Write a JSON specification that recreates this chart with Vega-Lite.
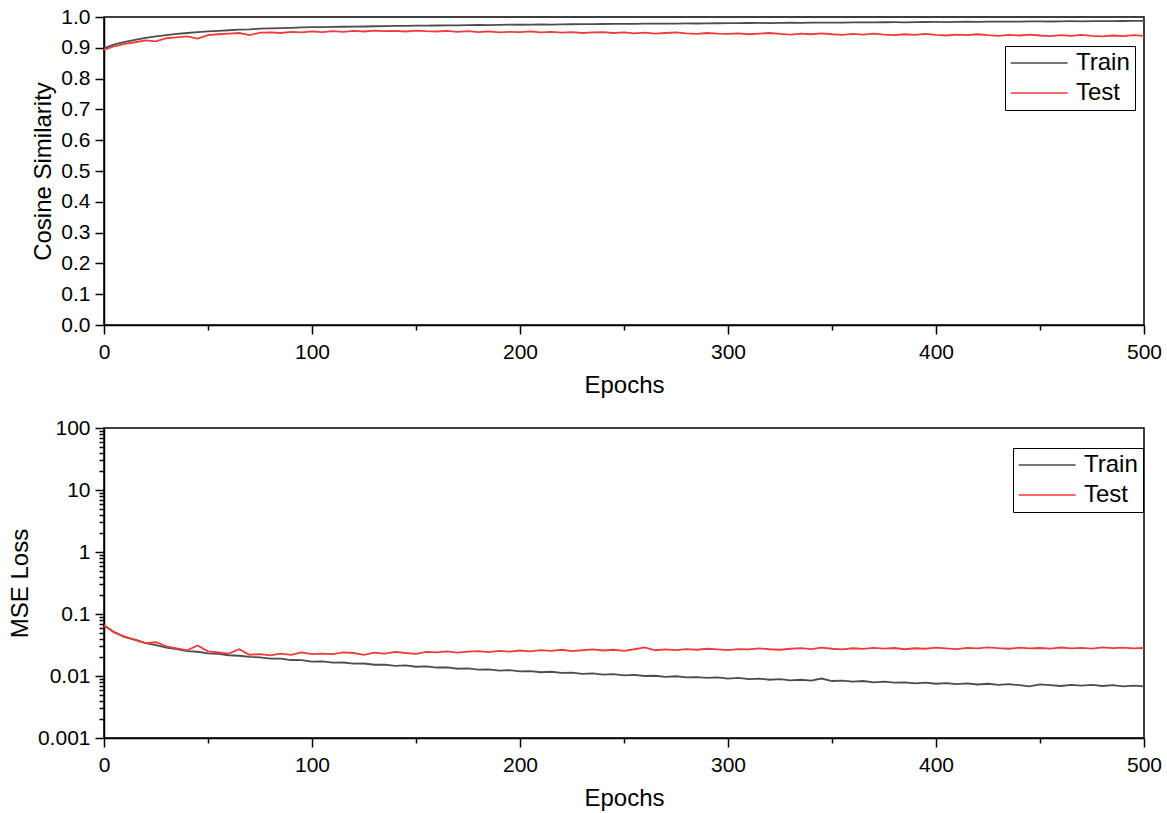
{
"$schema":"https://vega.github.io/schema/vega-lite/v6.json",
"padding":{"left":7,"top":5,"right":5,"bottom":5},
"background":"white",
"spacing":18,
"config":{
 "view":{"stroke":"black","strokeWidth":1.5},
 "axis":{"domainColor":"black","domainWidth":1.5,"tickColor":"black","tickWidth":1.5,"labelFont":"Liberation Sans","labelFontSize":21,"labelColor":"black","titleFont":"Liberation Sans","titleFontSize":24,"titleFontWeight":"normal","titleColor":"black","grid":false,"labelPadding":5,"labelOverlap":false,"labelFlush":false},
 "axisX":{"titlePadding":11,"labelPadding":7},
 "axisY":{"titlePadding":5},
 "legend":{"strokeColor":"black","strokeWidth":1,"fillColor":"white","padding":5,"labelFont":"Liberation Sans","labelFontSize":24,"labelColor":"black","symbolType":"M-1.2,0H4.8","symbolSize":361,"symbolStrokeWidth":1.5,"labelOffset":42,"rowPadding":6}
},
"resolve":{"scale":{"color":"independent"}},
"datasets":{
 "cos":[
{"e":0,"Train":0.898,"Test":0.893},{"e":5,"Train":0.911,"Test":0.905},{"e":10,"Train":0.919,"Test":0.913},{"e":15,"Train":0.926,"Test":0.918},{"e":20,"Train":0.932,"Test":0.924},{"e":25,"Train":0.937,"Test":0.921},{"e":30,"Train":0.941,"Test":0.931},{"e":35,"Train":0.945,"Test":0.934},{"e":40,"Train":0.948,"Test":0.937},{"e":45,"Train":0.951,"Test":0.930},
{"e":50,"Train":0.953,"Test":0.941},{"e":55,"Train":0.955,"Test":0.944},{"e":60,"Train":0.957,"Test":0.946},{"e":65,"Train":0.959,"Test":0.948},{"e":70,"Train":0.960,"Test":0.941},{"e":75,"Train":0.962,"Test":0.949},{"e":80,"Train":0.963,"Test":0.950},{"e":85,"Train":0.964,"Test":0.948},{"e":90,"Train":0.965,"Test":0.952},{"e":95,"Train":0.966,"Test":0.950},
{"e":100,"Train":0.967,"Test":0.953},{"e":105,"Train":0.9672,"Test":0.951},{"e":110,"Train":0.968,"Test":0.954},{"e":115,"Train":0.9683,"Test":0.952},{"e":120,"Train":0.969,"Test":0.955},{"e":125,"Train":0.9692,"Test":0.953},{"e":130,"Train":0.970,"Test":0.956},{"e":135,"Train":0.9702,"Test":0.954},{"e":140,"Train":0.971,"Test":0.955},{"e":145,"Train":0.9712,"Test":0.953},
{"e":150,"Train":0.972,"Test":0.956},{"e":155,"Train":0.9718,"Test":0.954},{"e":160,"Train":0.9724,"Test":0.953},{"e":165,"Train":0.973,"Test":0.955},{"e":170,"Train":0.9728,"Test":0.952},{"e":175,"Train":0.9737,"Test":0.954},{"e":180,"Train":0.974,"Test":0.951},{"e":185,"Train":0.9738,"Test":0.953},{"e":190,"Train":0.9746,"Test":0.950},{"e":195,"Train":0.975,"Test":0.952},
{"e":200,"Train":0.9748,"Test":0.951},{"e":205,"Train":0.9753,"Test":0.953},{"e":210,"Train":0.9758,"Test":0.950},{"e":215,"Train":0.9755,"Test":0.952},{"e":220,"Train":0.9762,"Test":0.949},{"e":225,"Train":0.9765,"Test":0.951},{"e":230,"Train":0.9768,"Test":0.948},{"e":235,"Train":0.9766,"Test":0.950},{"e":240,"Train":0.9772,"Test":0.951},{"e":245,"Train":0.9775,"Test":0.948},
{"e":250,"Train":0.9778,"Test":0.950},{"e":255,"Train":0.9776,"Test":0.947},{"e":260,"Train":0.9783,"Test":0.949},{"e":265,"Train":0.9785,"Test":0.946},{"e":270,"Train":0.9782,"Test":0.948},{"e":275,"Train":0.9788,"Test":0.950},{"e":280,"Train":0.9791,"Test":0.947},{"e":285,"Train":0.9789,"Test":0.945},{"e":290,"Train":0.9795,"Test":0.948},{"e":295,"Train":0.9797,"Test":0.946},
{"e":300,"Train":0.9800,"Test":0.945},{"e":305,"Train":0.9798,"Test":0.947},{"e":310,"Train":0.9805,"Test":0.944},{"e":315,"Train":0.9807,"Test":0.946},{"e":320,"Train":0.9804,"Test":0.948},{"e":325,"Train":0.9811,"Test":0.945},{"e":330,"Train":0.9813,"Test":0.943},{"e":335,"Train":0.9810,"Test":0.946},{"e":340,"Train":0.9816,"Test":0.944},{"e":345,"Train":0.9818,"Test":0.947},
{"e":350,"Train":0.9820,"Test":0.944},{"e":355,"Train":0.9817,"Test":0.942},{"e":360,"Train":0.9824,"Test":0.945},{"e":365,"Train":0.9826,"Test":0.943},{"e":370,"Train":0.9823,"Test":0.946},{"e":375,"Train":0.9829,"Test":0.943},{"e":380,"Train":0.9831,"Test":0.941},{"e":385,"Train":0.9828,"Test":0.944},{"e":390,"Train":0.9835,"Test":0.942},{"e":395,"Train":0.9837,"Test":0.945},
{"e":400,"Train":0.9840,"Test":0.942},{"e":405,"Train":0.9836,"Test":0.940},{"e":410,"Train":0.9843,"Test":0.943},{"e":415,"Train":0.9845,"Test":0.941},{"e":420,"Train":0.9842,"Test":0.944},{"e":425,"Train":0.9848,"Test":0.941},{"e":430,"Train":0.9850,"Test":0.939},{"e":435,"Train":0.9847,"Test":0.942},{"e":440,"Train":0.9853,"Test":0.940},{"e":445,"Train":0.9855,"Test":0.943},
{"e":450,"Train":0.9858,"Test":0.940},{"e":455,"Train":0.9854,"Test":0.938},{"e":460,"Train":0.9861,"Test":0.941},{"e":465,"Train":0.9863,"Test":0.939},{"e":470,"Train":0.9859,"Test":0.942},{"e":475,"Train":0.9866,"Test":0.939},{"e":480,"Train":0.9868,"Test":0.937},{"e":485,"Train":0.9864,"Test":0.940},{"e":490,"Train":0.9870,"Test":0.938},{"e":495,"Train":0.9872,"Test":0.941},
{"e":500,"Train":0.9874,"Test":0.939}
 ],
 "mse":[
{"e":0,"Train":0.066,"Test":0.066},{"e":5,"Train":0.051,"Test":0.050},{"e":10,"Train":0.0425,"Test":0.043},{"e":15,"Train":0.0385,"Test":0.038},{"e":20,"Train":0.0338,"Test":0.034},{"e":25,"Train":0.0315,"Test":0.035},{"e":30,"Train":0.0288,"Test":0.030},{"e":35,"Train":0.0272,"Test":0.028},{"e":40,"Train":0.0252,"Test":0.026},{"e":45,"Train":0.0246,"Test":0.031},
{"e":50,"Train":0.0232,"Test":0.025},{"e":55,"Train":0.0228,"Test":0.024},{"e":60,"Train":0.0216,"Test":0.023},{"e":65,"Train":0.0212,"Test":0.027},{"e":70,"Train":0.0203,"Test":0.022},{"e":75,"Train":0.0200,"Test":0.0225},{"e":80,"Train":0.0191,"Test":0.0215},{"e":85,"Train":0.0190,"Test":0.023},{"e":90,"Train":0.0181,"Test":0.022},{"e":95,"Train":0.0180,"Test":0.024},
{"e":100,"Train":0.0171,"Test":0.0225},{"e":105,"Train":0.0172,"Test":0.023},{"e":110,"Train":0.0164,"Test":0.0225},{"e":115,"Train":0.0165,"Test":0.024},{"e":120,"Train":0.0158,"Test":0.0235},{"e":125,"Train":0.0159,"Test":0.022},{"e":130,"Train":0.0152,"Test":0.0238},{"e":135,"Train":0.0153,"Test":0.023},{"e":140,"Train":0.0146,"Test":0.0245},{"e":145,"Train":0.0148,"Test":0.0235},
{"e":150,"Train":0.0141,"Test":0.0228},{"e":155,"Train":0.0143,"Test":0.0245},{"e":160,"Train":0.0137,"Test":0.024},{"e":165,"Train":0.0138,"Test":0.025},{"e":170,"Train":0.0131,"Test":0.0238},{"e":175,"Train":0.0133,"Test":0.0248},{"e":180,"Train":0.0127,"Test":0.0252},{"e":185,"Train":0.0128,"Test":0.0243},{"e":190,"Train":0.0122,"Test":0.0255},{"e":195,"Train":0.0124,"Test":0.0248},
{"e":200,"Train":0.0119,"Test":0.0258},{"e":205,"Train":0.0120,"Test":0.025},{"e":210,"Train":0.0115,"Test":0.0262},{"e":215,"Train":0.0117,"Test":0.0255},{"e":220,"Train":0.0112,"Test":0.0265},{"e":225,"Train":0.0113,"Test":0.0252},{"e":230,"Train":0.0108,"Test":0.026},{"e":235,"Train":0.0110,"Test":0.0268},{"e":240,"Train":0.0105,"Test":0.0258},{"e":245,"Train":0.0107,"Test":0.0265},
{"e":250,"Train":0.0102,"Test":0.0255},{"e":255,"Train":0.0104,"Test":0.027},{"e":260,"Train":0.0100,"Test":0.029},{"e":265,"Train":0.0101,"Test":0.026},{"e":270,"Train":0.0097,"Test":0.0268},{"e":275,"Train":0.0099,"Test":0.0262},{"e":280,"Train":0.0095,"Test":0.0272},{"e":285,"Train":0.0096,"Test":0.0265},{"e":290,"Train":0.0093,"Test":0.0275},{"e":295,"Train":0.0095,"Test":0.0268},
{"e":300,"Train":0.0091,"Test":0.0262},{"e":305,"Train":0.0093,"Test":0.0272},{"e":310,"Train":0.0089,"Test":0.0268},{"e":315,"Train":0.0091,"Test":0.0278},{"e":320,"Train":0.0087,"Test":0.027},{"e":325,"Train":0.0089,"Test":0.0265},{"e":330,"Train":0.0085,"Test":0.0275},{"e":335,"Train":0.0087,"Test":0.0282},{"e":340,"Train":0.0084,"Test":0.0272},{"e":345,"Train":0.0091,"Test":0.0286},
{"e":350,"Train":0.0083,"Test":0.0275},{"e":355,"Train":0.0084,"Test":0.0268},{"e":360,"Train":0.0081,"Test":0.028},{"e":365,"Train":0.0083,"Test":0.0274},{"e":370,"Train":0.0079,"Test":0.0285},{"e":375,"Train":0.0081,"Test":0.0276},{"e":380,"Train":0.0078,"Test":0.0283},{"e":385,"Train":0.0079,"Test":0.027},{"e":390,"Train":0.0076,"Test":0.028},{"e":395,"Train":0.0078,"Test":0.0275},
{"e":400,"Train":0.0075,"Test":0.0287},{"e":405,"Train":0.0077,"Test":0.0278},{"e":410,"Train":0.0074,"Test":0.0272},{"e":415,"Train":0.0076,"Test":0.0285},{"e":420,"Train":0.0073,"Test":0.0279},{"e":425,"Train":0.0075,"Test":0.029},{"e":430,"Train":0.0072,"Test":0.0281},{"e":435,"Train":0.0074,"Test":0.0275},{"e":440,"Train":0.0071,"Test":0.0286},{"e":445,"Train":0.0068,"Test":0.0278},
{"e":450,"Train":0.0073,"Test":0.0283},{"e":455,"Train":0.0071,"Test":0.0276},{"e":460,"Train":0.0069,"Test":0.0288},{"e":465,"Train":0.0072,"Test":0.0279},{"e":470,"Train":0.0070,"Test":0.0284},{"e":475,"Train":0.0072,"Test":0.0277},{"e":480,"Train":0.0069,"Test":0.029},{"e":485,"Train":0.0071,"Test":0.0281},{"e":490,"Train":0.0068,"Test":0.0286},{"e":495,"Train":0.0070,"Test":0.0279},
{"e":500,"Train":0.0068,"Test":0.0283}
 ]
},
"vconcat":[
 {
  "width":1040,"height":308,
  "data":{"name":"cos"},
  "transform":[{"fold":["Train","Test"],"as":["series","value"]}],
  "mark":{"type":"line","strokeWidth":1.8},
  "encoding":{
   "x":{"field":"e","type":"quantitative","scale":{"domain":[0,500],"nice":false},
        "axis":{"title":"Epochs","values":[0,50,100,150,200,250,300,350,400,450,500],"labelExpr":"datum.value % 100 === 0 ? datum.label : ''","tickSize":{"condition":{"test":"datum.value % 100 === 0","value":9},"value":5}}},
   "y":{"field":"value","type":"quantitative","scale":{"domain":[0,1],"nice":false,"zero":false},
        "axis":{"title":"Cosine Similarity","values":[0,0.1,0.2,0.3,0.4,0.5,0.6,0.7,0.8,0.9,1.0],"format":".1f","tickSize":9}},
   "color":{"field":"series","type":"nominal","scale":{"domain":["Train","Test"],"range":["#4d4d4d","#ef3b3b"]},"legend":{"title":null,"orient":"none","legendX":901,"legendY":29}}
  }
 },
 {
  "width":1040,"height":310,
  "data":{"name":"mse"},
  "transform":[{"fold":["Train","Test"],"as":["series","value"]}],
  "mark":{"type":"line","strokeWidth":1.8},
  "encoding":{
   "x":{"field":"e","type":"quantitative","scale":{"domain":[0,500],"nice":false},
        "axis":{"title":"Epochs","values":[0,50,100,150,200,250,300,350,400,450,500],"labelExpr":"datum.value % 100 === 0 ? datum.label : ''","tickSize":{"condition":{"test":"datum.value % 100 === 0","value":9},"value":5}}},
   "y":{"field":"value","type":"quantitative","scale":{"type":"log","domain":[0.001,100],"nice":false},
        "axis":{"title":"MSE Loss",
          "values":[0.001,0.002,0.003,0.004,0.005,0.006,0.007,0.008,0.009,0.01,0.02,0.03,0.04,0.05,0.06,0.07,0.08,0.09,0.1,0.2,0.3,0.4,0.5,0.6,0.7,0.8,0.9,1,2,3,4,5,6,7,8,9,10,20,30,40,50,60,70,80,90,100],
          "labelExpr":"abs(log(datum.value)/LN10 - round(log(datum.value)/LN10)) < 0.001 ? format(datum.value, '~g') : ''",
          "tickSize":{"condition":{"test":"abs(log(datum.value)/LN10 - round(log(datum.value)/LN10)) < 0.001","value":9},"value":5}}},
   "color":{"field":"series","type":"nominal","scale":{"domain":["Train","Test"],"range":["#4d4d4d","#ef3b3b"]},"legend":{"title":null,"orient":"none","legendX":909,"legendY":20}}
  }
 }
]
}
